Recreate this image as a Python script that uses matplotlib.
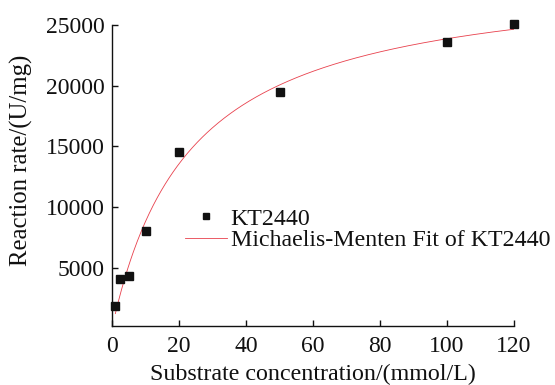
import numpy as np
import matplotlib
matplotlib.use("Agg")
import matplotlib.pyplot as plt

# data
substrate = [1, 2.5, 5, 10, 20, 50, 100, 120]
rate = [1820, 4020, 4320, 7980, 14520, 19500, 23570, 25100]
# fitted Michaelis-Menten parameters
vmax = 29480
km = 23.5
xticks = [0, 20, 40, 60, 80, 100, 120]
yticks = [5000, 10000, 15000, 20000, 25000]

plt.rcParams['font.family'] = ['Liberation Serif', 'DejaVu Serif']
plt.rcParams['mathtext.fontset'] = 'stix'

fig = plt.figure(figsize=(5.55, 3.85), dpi=100)
ax = fig.add_axes([0.2018, 0.1532, 0.7244, 0.7818])

xs = np.linspace(min(substrate), max(substrate), 400)
fit = vmax * xs / (km + xs)
ax.plot(xs, fit, color='#e8404c', lw=0.6, label='Michaelis-Menten Fit of KT2440', zorder=2)
ax.plot(substrate, rate, ls='none', marker='s', ms=5.2, color='#111111', mec='#111111',
        label='KT2440', clip_on=False, zorder=3)

ax.set_xlim(0, 120)
ax.set_ylim(180, 25000)
ax.set_xticks(xticks)
ax.set_yticks(yticks)
ax.tick_params(direction='in', length=4, width=1, labelsize=17, colors='#111111')
ax.tick_params(axis='x', pad=7)
ax.tick_params(axis='y', pad=5)
for s in ['top', 'right']:
    ax.spines[s].set_visible(False)
for s in ['left', 'bottom']:
    ax.spines[s].set_linewidth(1)
    ax.spines[s].set_color('#111111')

ax.set_xlabel('Substrate concentration/(mmol/L)', fontsize=17.3, labelpad=5, color='#111111')
ax.set_ylabel('Reaction rate/(U/mg)', fontsize=17.8, color='#111111')
ax.yaxis.set_label_coords(-0.196, 0.551)

handles, labels = ax.get_legend_handles_labels()
leg = ax.legend(handles[::-1], labels[::-1], loc='upper left', bbox_to_anchor=(0.182, 0.392),
                frameon=False, fontsize=17.2, handlelength=1.75, handletextpad=0.15,
                labelspacing=0.0, borderpad=0, borderaxespad=0, markerscale=0.7)
for t in leg.get_texts():
    t.set_color('#111111')

fig.savefig('out.png', dpi=100)
